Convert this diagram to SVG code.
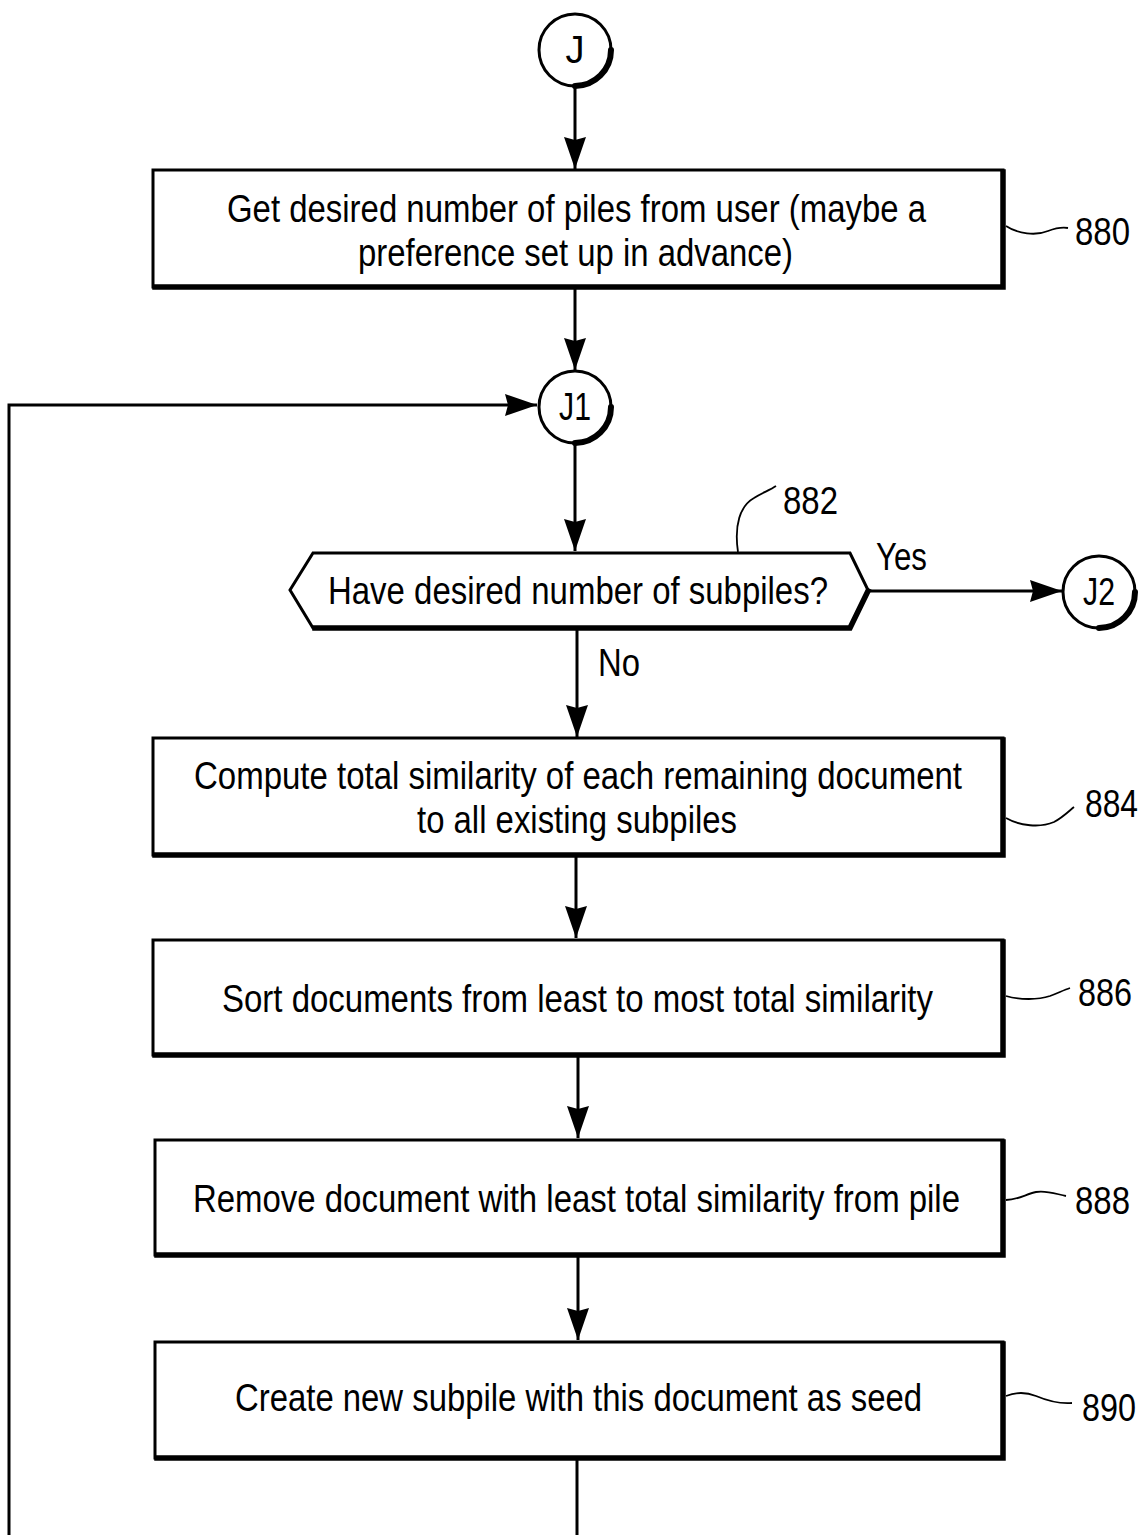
<svg xmlns="http://www.w3.org/2000/svg" width="1148" height="1535" viewBox="0 0 1148 1535">
<style>
.bx{fill:#fff;stroke:#000;stroke-width:3}
.sh{fill:none;stroke:#000;stroke-width:5.5;stroke-linecap:square}
.cc{fill:#fff;stroke:#000;stroke-width:3}
.csh{fill:none;stroke:#000;stroke-width:6;stroke-linecap:round}
.ln{fill:none;stroke:#000;stroke-width:3}
.ld{fill:none;stroke:#000;stroke-width:1.8}
.t{font-family:"Liberation Sans Narrow","Liberation Sans",Arial,sans-serif;font-size:38px;fill:#000;text-anchor:middle}
.lb{font-family:"Liberation Sans Narrow","Liberation Sans",Arial,sans-serif;font-size:38px;fill:#000}
</style>
<defs>
<marker id="ah" markerUnits="userSpaceOnUse" markerWidth="34" markerHeight="24" refX="32" refY="12" orient="auto">
<path d="M0,1 L32,12 L0,23 L3,12 Z" fill="#000"/>
</marker>
</defs>

<g id="connectors">
<line class="ln" x1="575" y1="88" x2="575" y2="169" marker-end="url(#ah)"/>
<line class="ln" x1="575" y1="289" x2="575" y2="370" marker-end="url(#ah)"/>
<path class="ln" d="M9,1535 V405 H537" marker-end="url(#ah)"/>
<line class="ln" x1="575" y1="444" x2="575" y2="551" marker-end="url(#ah)"/>
<line class="ln" x1="868" y1="591" x2="1062" y2="591" marker-end="url(#ah)"/>
<line class="ln" x1="577" y1="630" x2="577" y2="737" marker-end="url(#ah)"/>
<line class="ln" x1="576" y1="857" x2="576" y2="938" marker-end="url(#ah)"/>
<line class="ln" x1="578" y1="1057" x2="578" y2="1138" marker-end="url(#ah)"/>
<line class="ln" x1="578" y1="1257" x2="578" y2="1340" marker-end="url(#ah)"/>
<line class="ln" x1="577" y1="1459" x2="577" y2="1535"/>
<text class="lb" x="876" y="570" textLength="51" lengthAdjust="spacingAndGlyphs">Yes</text>
<text class="lb" x="598" y="676" textLength="42" lengthAdjust="spacingAndGlyphs">No</text>
</g>

<g id="J">
<circle class="cc" cx="575" cy="50" r="36"/>
<path class="csh" d="M611,50 A36,36 0 0 1 575,86"/>
<text class="t" x="575" y="63">J</text>
</g>

<g id="n880">
<rect class="bx" x="153" y="170" width="850" height="117"/>
<path class="sh" d="M155,287 H1003 V172"/>
<text class="t" x="576.5" y="222" textLength="699" lengthAdjust="spacingAndGlyphs">Get desired number of piles from user (maybe a</text>
<text class="t" x="575.5" y="266" textLength="435" lengthAdjust="spacingAndGlyphs">preference set up in advance)</text>
<path class="ld" d="M1006,226 C1018,234 1036,236 1048,231 C1056,228 1062,227 1068,228"/>
<text class="lb" x="1075" y="245" textLength="55" lengthAdjust="spacingAndGlyphs">880</text>
</g>

<g id="J1">
<circle class="cc" cx="575" cy="407" r="36"/>
<path class="csh" d="M611,407 A36,36 0 0 1 575,443"/>
<text class="t" x="575" y="420" textLength="32" lengthAdjust="spacingAndGlyphs">J1</text>
</g>

<g id="n882">
<polygon class="bx" points="290,590 313,553 850,553 868,590 850,628 313,628"/>
<path class="sh" d="M315,628 H850 L868,591" stroke-linecap="butt" stroke-linejoin="miter"/>
<text class="t" x="578" y="604" textLength="500" lengthAdjust="spacingAndGlyphs">Have desired number of subpiles?</text>
<path class="ld" d="M738,552 C734,525 740,506 754,498 C762,493 770,490 776,486"/>
<text class="lb" x="783" y="514" textLength="55" lengthAdjust="spacingAndGlyphs">882</text>
</g>

<g id="J2">
<circle class="cc" cx="1099" cy="592" r="36"/>
<path class="csh" d="M1135,592 A36,36 0 0 1 1099,628"/>
<text class="t" x="1099" y="605" textLength="32" lengthAdjust="spacingAndGlyphs">J2</text>
</g>

<g id="n884">
<rect class="bx" x="153" y="738" width="850" height="117"/>
<path class="sh" d="M155,855 H1003 V740"/>
<text class="t" x="578" y="789" textLength="768" lengthAdjust="spacingAndGlyphs">Compute total similarity of each remaining document</text>
<text class="t" x="577" y="833" textLength="320" lengthAdjust="spacingAndGlyphs">to all existing subpiles</text>
<path class="ld" d="M1006,818 C1020,826 1040,828 1054,822 C1062,818 1068,812 1074,807"/>
<text class="lb" x="1085" y="817" textLength="53" lengthAdjust="spacingAndGlyphs">884</text>
</g>

<g id="n886">
<rect class="bx" x="153" y="940" width="850" height="115"/>
<path class="sh" d="M155,1055 H1003 V942"/>
<text class="t" x="577.5" y="1012" textLength="711" lengthAdjust="spacingAndGlyphs">Sort documents from least to most total similarity</text>
<path class="ld" d="M1006,996 C1020,1000 1038,1000 1050,996 C1058,993 1064,990 1070,988"/>
<text class="lb" x="1078" y="1006" textLength="54" lengthAdjust="spacingAndGlyphs">886</text>
</g>

<g id="n888">
<rect class="bx" x="155" y="1140" width="848" height="115"/>
<path class="sh" d="M157,1255 H1003 V1142"/>
<text class="t" x="576.5" y="1212" textLength="767" lengthAdjust="spacingAndGlyphs">Remove document with least total similarity from pile</text>
<path class="ld" d="M1006,1200 C1018,1200 1026,1194 1036,1192 C1046,1190 1056,1194 1066,1196"/>
<text class="lb" x="1075" y="1214" textLength="55" lengthAdjust="spacingAndGlyphs">888</text>
</g>

<g id="n890">
<rect class="bx" x="155" y="1342" width="848" height="116"/>
<path class="sh" d="M157,1458 H1003 V1344"/>
<text class="t" x="578.5" y="1411" textLength="687" lengthAdjust="spacingAndGlyphs">Create new subpile with this document as seed</text>
<path class="ld" d="M1006,1396 C1016,1392 1026,1392 1036,1396 C1048,1401 1060,1404 1072,1403"/>
<text class="lb" x="1082" y="1421" textLength="54" lengthAdjust="spacingAndGlyphs">890</text>
</g>
</svg>
